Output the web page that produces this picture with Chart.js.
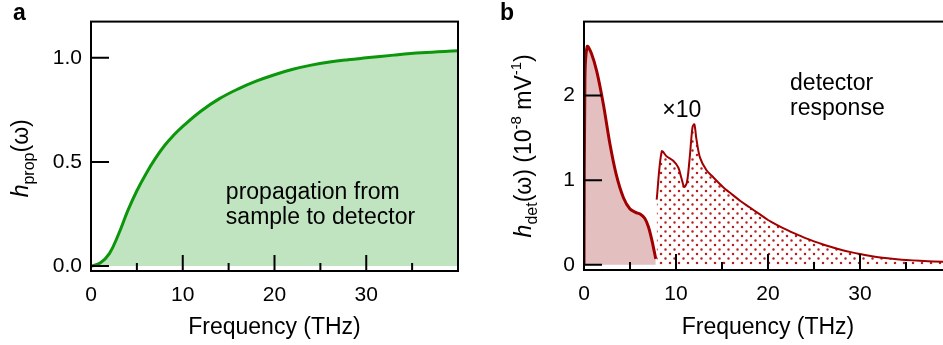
<!DOCTYPE html>
<html>
<head>
<meta charset="utf-8">
<script src="https://cdn.jsdelivr.net/npm/chart.js@4.4.1/dist/chart.umd.min.js"></script>
<style>
  html, body { margin: 0; padding: 0; background: #fff; overflow: hidden; }
  #wrap { position: relative; width: 943px; height: 345px; overflow: hidden; }
  #chartA { position: absolute; left: 0; top: 0; }
  #chartB { position: absolute; left: 470px; top: 0; }
</style>
</head>
<body>
<div id="wrap">
  <canvas id="chartA" width="470" height="345"></canvas>
  <canvas id="chartB" width="500" height="345"></canvas>
</div>
<script>
// panel a : propagation sample -> detector
const freqProp = [0, 1, 2, 3, 4, 5, 6, 7, 8, 9, 10, 12, 14, 16, 18, 20, 22, 24, 26, 28, 30, 33, 36, 40];
const hProp = [0, 0.015, 0.06, 0.153, 0.265, 0.362, 0.444, 0.516, 0.578, 0.628, 0.671, 0.745, 0.804, 0.85, 0.888, 0.919, 0.945, 0.965, 0.98, 0.991, 1.0, 1.013, 1.024, 1.034];

// panel b : detector response (main part and the x10 part)
const freqDet = [0, 0.1, 0.35, 0.8, 1.4, 2.1, 2.8, 3.5, 4.3, 5.0, 5.6, 6.1, 6.6, 7.0, 7.4, 7.8];
const hDet = [0, 2.2, 2.58, 2.5, 2.28, 1.9, 1.44, 1.07, 0.79, 0.66, 0.62, 0.6, 0.55, 0.45, 0.28, 0.07];
const freqX10 = [7.9, 8.45, 9.0, 9.7, 10.25, 10.6, 10.9, 11.2, 11.5, 11.8, 12.0, 12.2, 12.6, 13.3, 14.0, 15.1, 16, 17, 18, 19, 20, 21, 22, 23, 24, 25, 26, 27, 28, 29, 30, 31, 32, 33, 34, 35, 36.5, 38, 40];
const hX10 = [0.77, 1.34, 1.28, 1.23, 1.15, 1.02, 0.92, 0.98, 1.28, 1.63, 1.66, 1.5, 1.27, 1.12, 1.04, 0.92, 0.84, 0.755, 0.68, 0.605, 0.53, 0.47, 0.415, 0.365, 0.318, 0.277, 0.24, 0.207, 0.176, 0.15, 0.127, 0.107, 0.091, 0.078, 0.067, 0.058, 0.048, 0.04, 0.034];

// ticks
const xTicks = [0, 5, 10, 15, 20, 25, 30, 35, 40];
const yTicksA = [0, 0.5, 1.0];
const yTicksB = [0, 1, 2];

const FONT = '"Liberation Sans", Arial, Helvetica, sans-serif';
Chart.defaults.font.family = FONT;
Chart.defaults.color = '#000';

function pts(xs, ys) {
  return xs.map((x, i) => ({ x: x, y: ys[i] }));
}

// draws text made of pieces (italic, sub, sup), rotated for y titles
function drawRich(ctx, parts, x, y, rot) {
  ctx.save();
  ctx.translate(x, y);
  if (rot) ctx.rotate(-Math.PI / 2);
  let total = 0;
  parts.forEach(p => {
    ctx.font = (p.italic ? 'italic ' : '') + p.size + 'px ' + FONT;
    p.w = ctx.measureText(p.t).width;
    total += p.w;
  });
  let cx = -total / 2;
  ctx.fillStyle = '#000';
  ctx.textBaseline = 'alphabetic';
  parts.forEach(p => {
    ctx.font = (p.italic ? 'italic ' : '') + p.size + 'px ' + FONT;
    ctx.fillText(p.t, cx, p.dy || 0);
    cx += p.w;
  });
  ctx.restore();
}

// frame, inward ticks, y title and notes
const decor = {
  id: 'decor',
  afterDatasetsDraw(chart, args, opts) {
    const { ctx, chartArea: a, scales } = chart;
    const x = scales.x, y = scales.y;
    ctx.save();
    ctx.strokeStyle = '#000';
    ctx.lineWidth = 2;
    ctx.strokeRect(a.left, a.top, a.right - a.left, a.bottom - a.top);
    ctx.beginPath();
    x.ticks.forEach(t => {
      const px = x.getPixelForValue(t.value);
      const len = t.value % 10 === 0 ? 16 : 8;
      ctx.moveTo(px, a.bottom);
      ctx.lineTo(px, a.bottom - len);
    });
    y.ticks.forEach(t => {
      const py = y.getPixelForValue(t.value);
      ctx.moveTo(a.left, py);
      ctx.lineTo(a.left + 18, py);
    });
    ctx.stroke();

    // panel letter
    ctx.font = 'bold 23px ' + FONT;
    ctx.fillStyle = '#000';
    ctx.fillText(opts.letter, opts.letterX, 20);

    // y axis title
    drawRich(ctx, opts.yTitle, opts.yTitleX, (a.top + a.bottom) / 2 + opts.yTitleShift, true);

    // notes, placed on the data scales
    ctx.font = '23px ' + FONT;
    ctx.textBaseline = 'alphabetic';
    opts.notes.forEach(n => {
      ctx.fillText(n.t, x.getPixelForValue(n.x), y.getPixelForValue(n.y));
    });
    ctx.restore();
  }
};

function makeOptions(cfg) {
  return {
    responsive: false,
    animation: false,
    layout: { padding: { left: 0, right: cfg.padRight, top: cfg.padTop, bottom: 0 } },
    plugins: {
      legend: { display: false },
      tooltip: { enabled: false },
      decor: cfg.decor
    },
    elements: { point: { radius: 0 } },
    scales: {
      x: {
        type: 'linear',
        min: 0,
        max: 40,
        grid: { display: false, drawTicks: false },
        border: { display: false },
        afterBuildTicks: s => { s.ticks = xTicks.map(v => ({ value: v })); },
        afterFit: s => { s.height = cfg.xHeight; },
        ticks: {
          autoSkip: false,
          maxRotation: 0,
          padding: 12,
          font: { size: 21 },
          callback: v => (v % 10 === 0 && v < 40 ? String(v) : '')
        },
        title: {
          display: true,
          text: 'Frequency (THz)',
          font: { size: 23 },
          padding: { top: 0, bottom: 4 }
        }
      },
      y: {
        type: 'linear',
        min: cfg.yMin,
        max: cfg.yMax,
        grid: { display: false, drawTicks: false },
        border: { display: false },
        afterBuildTicks: s => { s.ticks = cfg.yTicks.map(v => ({ value: v })); },
        afterFit: s => { s.width = cfg.yWidth; },
        ticks: {
          padding: 9,
          font: { size: 21 },
          callback: cfg.yFmt
        }
      }
    }
  };
}

// panel a
new Chart(document.getElementById('chartA'), {
  type: 'line',
  data: {
    datasets: [{
      data: pts(freqProp, hProp),
      borderColor: '#0c960c',
      borderWidth: 3,
      backgroundColor: '#c0e4c0',
      fill: { value: 0 },
      tension: 0.4
    }]
  },
  options: makeOptions({
    padRight: 10, padTop: 16, xHeight: 74, yWidth: 91,
    yMin: -0.0235, yMax: 1.174, yTicks: yTicksA,
    yFmt: v => v.toFixed(1),
    decor: {
      letter: 'a', letterX: 13,
      yTitleX: 28, yTitleShift: 12,
      yTitle: [
        { t: 'h', size: 23, italic: true },
        { t: 'prop', size: 16, dy: 6 },
        { t: '(\u03c9)', size: 23 }
      ],
      notes: [
        { t: 'propagation from', x: 14.7, y: 0.32 },
        { t: 'sample to detector', x: 14.7, y: 0.2 }
      ]
    }
  }),
  plugins: [decor]
});

// dotted fill for the x10 part
function dotPattern() {
  const t = document.createElement('canvas');
  t.width = 9; t.height = 9;
  const c = t.getContext('2d');
  c.fillStyle = '#b82020';
  c.beginPath();
  c.arc(2, 2, 1.25, 0, Math.PI * 2);
  c.arc(6.5, 6.5, 1.25, 0, Math.PI * 2);
  c.fill();
  return c.createPattern(t, 'repeat');
}

// panel b
new Chart(document.getElementById('chartB'), {
  type: 'line',
  data: {
    datasets: [{
      data: pts(freqDet, hDet),
      borderColor: '#a00000',
      borderWidth: 3,
      backgroundColor: '#e4bfc0',
      fill: { value: 0 },
      tension: 0.3
    }, {
      data: pts(freqX10, hX10),
      borderColor: '#a00000',
      borderWidth: 2,
      backgroundColor: dotPattern(),
      fill: { value: 0 },
      tension: 0.3
    }]
  },
  options: makeOptions({
    padRight: 18, padTop: 15, xHeight: 75, yWidth: 114,
    yMin: -0.061, yMax: 2.874, yTicks: yTicksB,
    yFmt: v => String(v),
    decor: {
      letter: 'b', letterX: 30,
      yTitleX: 61, yTitleShift: 0,
      yTitle: [
        { t: 'h', size: 23, italic: true },
        { t: 'det', size: 16, dy: 6 },
        { t: '(\u03c9) (10', size: 23 },
        { t: '-8', size: 15, dy: -10 },
        { t: ' mV', size: 23 },
        { t: '-1', size: 15, dy: -10 },
        { t: ')', size: 23 }
      ],
      notes: [
        { t: '\u00d710', x: 8.5, y: 1.75 },
        { t: 'detector', x: 22.4, y: 2.07 },
        { t: 'response', x: 22.4, y: 1.77 }
      ]
    }
  }),
  plugins: [decor]
});
</script>
</body>
</html>
